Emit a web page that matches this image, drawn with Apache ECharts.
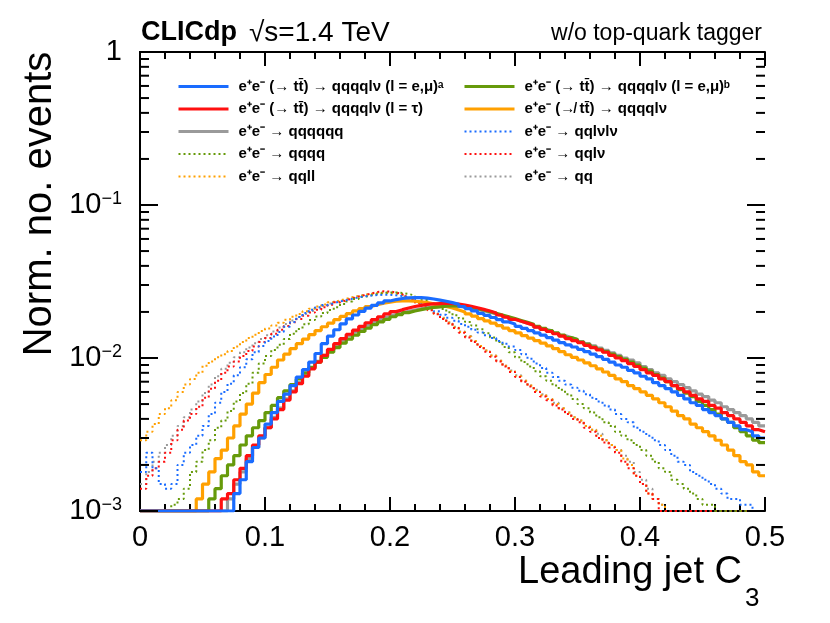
<!DOCTYPE html>
<html><head><meta charset="utf-8">
<script src="https://cdn.jsdelivr.net/npm/echarts/dist/echarts.min.js"></script>
<style>html,body{margin:0;padding:0;background:#fff}#c{width:830px;height:623px}</style>
</head><body><div id="c"></div>
<script>
// Histogram binning (bin low edge and width of the leading-jet C3 distribution)
const binLow = 0;
const binWidth = 0.005;
const xTicks = [0, 0.1, 0.2, 0.3, 0.4, 0.5];
const yMajorTicks = [0.001, 0.01, 0.1, 1];
const yMinorTicks = [0.002,0.003,0.004,0.005,0.006,0.007,0.008,0.009,
  0.02,0.03,0.04,0.05,0.06,0.07,0.08,0.09,
  0.2,0.3,0.4,0.5,0.6,0.7,0.8,0.9];

const seriesNames = [
  'e⁺e⁻ (→ tt̄) → qqqqlν (l = e,μ)ᵃ',
  'e⁺e⁻ (→ tt̄) → qqqqlν (l = τ)',
  'e⁺e⁻ → qqqqqq',
  'e⁺e⁻ → qqqq',
  'e⁺e⁻ → qqll',
  'e⁺e⁻ (→ tt̄) → qqqqlν (l = e,μ)ᵇ',
  'e⁺e⁻ (↛ tt̄) → qqqqlν',
  'e⁺e⁻ → qqlνlν',
  'e⁺e⁻ → qqlν',
  'e⁺e⁻ → qq'
];

// blue solid
const ttA = [0.001,0.001,0.001,0.001,0.001,0.001,0.001,0.001,0.001,0.001,
 0.001,0.001,0.001,0.001,0.001,0.0013,0.0016,0.0021,0.0026,0.0030,
 0.0037,0.0044,0.0052,0.0058,0.0066,0.0075,0.0084,0.0094,0.0107,0.0124,
 0.0139,0.0153,0.0167,0.0180,0.0191,0.0202,0.0212,0.0221,0.0229,0.0236,
 0.0241,0.0245,0.0247,0.0248,0.0248,0.0246,0.0243,0.0239,0.0235,0.0230,
 0.0224,0.0217,0.0210,0.0203,0.0196,0.0190,0.0184,0.0178,0.0172,0.0167,
 0.0161,0.0156,0.0151,0.0146,0.0141,0.0136,0.0131,0.0126,0.0122,0.0118,
 0.0114,0.0110,0.0106,0.0102,0.0098,0.0094,0.0090,0.0087,0.0083,0.0080,
 0.0076,0.0073,0.0069,0.0066,0.0063,0.0060,0.0057,0.0054,0.0051,0.0049,
 0.0046,0.0044,0.0042,0.0040,0.0038,0.0036,0.0034,0.0033,0.0031,0.0030];
// red solid
const ttTau = [0.001,0.001,0.001,0.001,0.001,0.001,0.001,0.001,0.001,0.001,
 0.001,0.001,0.001,0.0012,0.0013,0.0016,0.0019,0.0023,0.0027,0.0031,
 0.0035,0.0040,0.0046,0.0053,0.0060,0.0068,0.0076,0.0085,0.0094,0.0104,
 0.0114,0.0124,0.0134,0.0143,0.0152,0.0161,0.0170,0.0178,0.0186,0.0194,
 0.0201,0.0207,0.0212,0.0217,0.0221,0.0224,0.0226,0.0227,0.0228,0.0227,
 0.0225,0.0222,0.0218,0.0213,0.0208,0.0203,0.0197,0.0191,0.0185,0.0179,
 0.0174,0.0169,0.0164,0.0159,0.0154,0.0149,0.0144,0.0139,0.0134,0.0130,
 0.0126,0.0121,0.0117,0.0113,0.0109,0.0104,0.0100,0.0096,0.0092,0.0088,
 0.0084,0.0080,0.0077,0.0073,0.0070,0.0066,0.0063,0.0060,0.0057,0.0054,
 0.0052,0.0049,0.0047,0.0044,0.0042,0.0040,0.0038,0.0036,0.0034,0.0033];
// gray solid
const sixQ = [0.001,0.001,0.001,0.001,0.001,0.001,0.001,0.001,0.001,0.001,
 0.001,0.001,0.001,0.001,0.0012,0.0015,0.0018,0.0022,0.0026,0.0030,
 0.0035,0.0041,0.0047,0.0054,0.0061,0.0069,0.0077,0.0086,0.0095,0.0104,
 0.0113,0.0122,0.0131,0.0140,0.0148,0.0156,0.0164,0.0171,0.0178,0.0185,
 0.0191,0.0197,0.0202,0.0206,0.0210,0.0213,0.0215,0.0217,0.0218,0.0218,
 0.0217,0.0215,0.0212,0.0208,0.0204,0.0199,0.0194,0.0189,0.0184,0.0179,
 0.0174,0.0169,0.0164,0.0159,0.0154,0.0150,0.0145,0.0140,0.0136,0.0132,
 0.0128,0.0124,0.0120,0.0116,0.0112,0.0108,0.0104,0.0100,0.0097,0.0093,
 0.0088,0.0084,0.0080,0.0077,0.0073,0.0070,0.0067,0.0064,0.0061,0.0058,
 0.0056,0.0053,0.0051,0.0048,0.0046,0.0044,0.0042,0.0040,0.0038,0.0036];
// green solid
const ttB = [0.001,0.001,0.001,0.001,0.001,0.001,0.001,0.001,0.001,0.001,
 0.001,0.0012,0.0014,0.0017,0.0020,0.0023,0.0027,0.0031,0.0035,0.0039,
 0.0044,0.0049,0.0055,0.0061,0.0067,0.0073,0.0080,0.0087,0.0094,0.0101,
 0.0109,0.0117,0.0125,0.0133,0.0141,0.0149,0.0157,0.0165,0.0172,0.0179,
 0.0186,0.0192,0.0198,0.0203,0.0207,0.0211,0.0214,0.0216,0.0218,0.0219,
 0.0219,0.0217,0.0214,0.0210,0.0206,0.0201,0.0196,0.0191,0.0186,0.0181,
 0.0176,0.0171,0.0166,0.0161,0.0156,0.0151,0.0146,0.0141,0.0136,0.0132,
 0.0127,0.0123,0.0118,0.0114,0.0110,0.0106,0.0102,0.0098,0.0094,0.0090,
 0.0086,0.0082,0.0078,0.0074,0.0070,0.0066,0.0062,0.0059,0.0056,0.0052,
 0.0049,0.0046,0.0043,0.0040,0.0038,0.0035,0.0033,0.0031,0.0029,0.0028];
// orange solid
const nonTT = [0.001,0.001,0.001,0.001,0.001,0.001,0.001,0.001,0.001,0.0012,
 0.0015,0.0018,0.0022,0.0025,0.0030,0.0036,0.0043,0.0050,0.0059,0.0069,
 0.0078,0.0087,0.0097,0.0106,0.0115,0.0124,0.0133,0.0142,0.0151,0.0160,
 0.0169,0.0178,0.0187,0.0195,0.0203,0.0210,0.0217,0.0223,0.0228,0.0232,
 0.0235,0.0236,0.0236,0.0235,0.0233,0.0230,0.0226,0.0222,0.0217,0.0212,
 0.0206,0.0200,0.0194,0.0188,0.0181,0.0175,0.0169,0.0163,0.0157,0.0151,
 0.0146,0.0140,0.0135,0.0130,0.0125,0.0120,0.0115,0.0110,0.0105,0.0101,
 0.0097,0.0093,0.0089,0.0085,0.0081,0.0077,0.0073,0.0070,0.0066,0.0063,
 0.0060,0.0057,0.0054,0.0051,0.0048,0.0045,0.0042,0.0040,0.0037,0.0035,
 0.0033,0.0031,0.0029,0.0027,0.0025,0.0023,0.0021,0.0020,0.0018,0.0017];
// green dotted
const fourQ = [0.001,0.001,0.001,0.001,0.001,0.0011,0.0012,0.0014,0.0018,0.0021,
 0.0025,0.0029,0.0035,0.0039,0.0045,0.0052,0.0059,0.0068,0.0080,0.0092,
 0.0103,0.0113,0.0122,0.0133,0.0144,0.0155,0.0166,0.0177,0.0187,0.0197,
 0.0206,0.0215,0.0225,0.0234,0.0243,0.0251,0.0257,0.0262,0.0266,0.0268,
 0.0268,0.0266,0.0262,0.0256,0.0248,0.0239,0.0229,0.0219,0.0209,0.0199,
 0.0190,0.0181,0.0172,0.0163,0.0154,0.0145,0.0136,0.0127,0.0118,0.0109,
 0.0101,0.0094,0.0088,0.0082,0.0076,0.0071,0.0066,0.0062,0.0058,0.0054,
 0.0050,0.0047,0.0044,0.0041,0.0038,0.0036,0.0033,0.0031,0.0029,0.0027,
 0.0025,0.0023,0.0021,0.0019,0.0018,0.0016,0.0015,0.0014,0.0013,0.0012,
 0.0011,0.0011,0.001,0.001,0.001,0.001,0.001,0.001,0.001,0.001];
// orange dotted
const qqll = [0.0029,0.0033,0.0037,0.0043,0.0047,0.0053,0.0060,0.0067,0.0073,0.0080,
 0.0089,0.0095,0.0101,0.0106,0.0111,0.0119,0.0127,0.0135,0.0142,0.0150,
 0.0156,0.0163,0.0170,0.0178,0.0186,0.0194,0.0202,0.0210,0.0217,0.0224,
 0.0231,0.0238,0.0244,0.0250,0.0254,0.0258,0.0262,0.0265,0.0266,0.0266,
 0.0263,0.0258,0.0250,0.0240,0.0229,0.0218,0.0206,0.0194,0.0182,0.0170,
 0.0159,0.0148,0.0138,0.0129,0.0120,0.0112,0.0104,0.0096,0.0089,0.0082,
 0.0076,0.0071,0.0066,0.0061,0.0057,0.0054,0.0050,0.0047,0.0044,0.0041,
 0.0039,0.0036,0.0034,0.0031,0.0029,0.0027,0.0025,0.0022,0.0020,0.0017,
 0.0015,0.0013,0.0012,0.0011,0.001,0.001,0.001,0.001,0.001,0.001,
 0.001,0.001,0.001,0.001,0.001,0.001,0.001,0.001,0.001,0.001];
// blue dotted
const qqlvlv = [0.0018,0.0024,0.0019,0.0015,0.0014,0.0015,0.0020,0.0024,0.0027,0.0031,
 0.0036,0.0043,0.0051,0.0060,0.0068,0.0077,0.0087,0.0098,0.0109,0.0120,
 0.0129,0.0138,0.0148,0.0160,0.0172,0.0185,0.0197,0.0207,0.0215,0.0222,
 0.0228,0.0234,0.0239,0.0244,0.0249,0.0253,0.0256,0.0258,0.0259,0.0259,
 0.0257,0.0254,0.0249,0.0242,0.0233,0.0223,0.0212,0.0202,0.0192,0.0183,
 0.0175,0.0167,0.0160,0.0153,0.0147,0.0141,0.0135,0.0129,0.0124,0.0119,
 0.0113,0.0106,0.0099,0.0092,0.0086,0.0080,0.0075,0.0071,0.0067,0.0064,
 0.0061,0.0058,0.0055,0.0052,0.0049,0.0046,0.0043,0.0040,0.0038,0.0035,
 0.0033,0.0031,0.0029,0.0027,0.0025,0.0023,0.0021,0.0020,0.0018,0.0017,
 0.0016,0.0015,0.0014,0.0013,0.0012,0.0012,0.0011,0.0011,0.001,0.001];
// red dotted
const qqlv = [0.0014,0.0017,0.0019,0.0021,0.0024,0.0029,0.0034,0.0039,0.0043,0.0048,
 0.0055,0.0063,0.0071,0.0080,0.0088,0.0095,0.0103,0.0111,0.0119,0.0127,
 0.0135,0.0144,0.0153,0.0162,0.0171,0.0180,0.0189,0.0198,0.0207,0.0215,
 0.0223,0.0231,0.0238,0.0245,0.0252,0.0258,0.0264,0.0270,0.0273,0.0272,
 0.0268,0.0262,0.0253,0.0242,0.0230,0.0218,0.0205,0.0193,0.0180,0.0168,
 0.0157,0.0146,0.0136,0.0127,0.0118,0.0110,0.0102,0.0095,0.0088,0.0081,
 0.0075,0.0070,0.0065,0.0060,0.0056,0.0053,0.0049,0.0046,0.0043,0.0040,
 0.0038,0.0035,0.0033,0.0030,0.0028,0.0026,0.0024,0.0021,0.0019,0.0017,
 0.0015,0.0013,0.0012,0.001,0.001,0.001,0.001,0.001,0.001,0.001,
 0.001,0.001,0.001,0.001,0.001,0.001,0.001,0.001,0.001,0.001];
// gray dotted
const qq = [0.0015,0.0018,0.0021,0.0024,0.0027,0.0031,0.0036,0.0041,0.0046,0.0052,
 0.0059,0.0067,0.0076,0.0085,0.0093,0.0101,0.0109,0.0117,0.0125,0.0133,
 0.0141,0.0149,0.0158,0.0167,0.0176,0.0185,0.0194,0.0203,0.0211,0.0219,
 0.0227,0.0234,0.0241,0.0248,0.0254,0.0259,0.0263,0.0267,0.0269,0.0269,
 0.0266,0.0260,0.0252,0.0242,0.0231,0.0219,0.0207,0.0195,0.0183,0.0171,
 0.0160,0.0149,0.0139,0.0129,0.0120,0.0112,0.0104,0.0096,0.0089,0.0083,
 0.0077,0.0071,0.0066,0.0062,0.0058,0.0054,0.0051,0.0047,0.0044,0.0041,
 0.0039,0.0036,0.0034,0.0032,0.0029,0.0027,0.0025,0.0023,0.0021,0.0018,
 0.0016,0.0014,0.0012,0.0011,0.001,0.001,0.001,0.001,0.001,0.001,
 0.001,0.001,0.001,0.001,0.001,0.001,0.001,0.001,0.001,0.001];

const BLUE = '#1a6cff', RED = '#ff1010', GRAY = '#9a9a9a', GREEN = '#669a0a', ORANGE = '#ffa000';
const FONT = '"Liberation Sans", Arial, Helvetica, sans-serif';

function hist(vals) {
  const pts = vals.map((v, i) => [binLow + i * binWidth, v]);
  pts.push([binLow + vals.length * binWidth, vals[vals.length - 1]]);
  return pts;
}
function mkSeries(name, vals, color, dotted, z) {
  return {
    name: name, type: 'line', step: 'end', data: hist(vals),
    symbol: 'none', showSymbol: false, animation: false, z: z,
    lineStyle: dotted ? { color: color, width: 2, type: [2, 3] } : { color: color, width: 3.2 },
    itemStyle: { color: color }
  };
}
function tickSeries(values, len) {
  return {
    type: 'custom', silent: true, animation: false, z: 5, clip: false,
    data: values.map(v => [0, v]),
    renderItem: function (params, api) {
      const cs = params.coordSys;
      const y = api.coord([0, api.value(1)])[1];
      const st = { stroke: '#000', lineWidth: 2 };
      return { type: 'group', children: [
        { type: 'line', shape: { x1: cs.x, y1: y, x2: cs.x + len, y2: y }, style: st },
        { type: 'line', shape: { x1: cs.x + cs.width - len, y1: y, x2: cs.x + cs.width, y2: y }, style: st }
      ]};
    }
  };
}

const series = [
  mkSeries(seriesNames[9], qq, GRAY, true, 2),
  mkSeries(seriesNames[4], qqll, ORANGE, true, 2),
  mkSeries(seriesNames[8], qqlv, RED, true, 2),
  mkSeries(seriesNames[3], fourQ, GREEN, true, 2),
  mkSeries(seriesNames[7], qqlvlv, BLUE, true, 2),
  mkSeries(seriesNames[2], sixQ, GRAY, false, 3),
  mkSeries(seriesNames[6], nonTT, ORANGE, false, 3),
  mkSeries(seriesNames[5], ttB, GREEN, false, 3),
  mkSeries(seriesNames[1], ttTau, RED, false, 3),
  mkSeries(seriesNames[0], ttA, BLUE, false, 3),
  tickSeries(yMinorTicks, 9),
  tickSeries(yMajorTicks, 18)
];

function legendItems(names, specs) {
  return names.map((n, i) => ({ name: n, lineStyle: specs[i] }));
}
const solid = c => ({ color: c, width: 3, type: 'solid' });
const dot = c => ({ color: c, width: 2, type: [2, 3] });

const legendCommon = {
  orient: 'vertical', itemWidth: 50, itemHeight: 10, itemGap: 7.5, padding: 0,
  selectedMode: false,
  itemStyle: { opacity: 0 },
  textStyle: { fontFamily: FONT, fontWeight: 'bold', fontSize: 15, lineHeight: 15, color: '#000', padding: [0, 0, 0, 5] }
};

const axisLineStyle = { show: true, lineStyle: { color: '#000', width: 2 } };
const chart = echarts.init(document.getElementById('c'), null, { renderer: 'canvas' });
chart.setOption({
  backgroundColor: '#fff',
  animation: false,
  grid: { left: 140, right: 65, top: 52, bottom: 112, outerBoundsMode: 'none', containLabel: false },
  legend: [
    Object.assign({}, legendCommon, { left: 177, top: 79,
      data: legendItems([seriesNames[0], seriesNames[1], seriesNames[2], seriesNames[3], seriesNames[4]],
        [solid(BLUE), solid(RED), solid(GRAY), dot(GREEN), dot(ORANGE)]) }),
    Object.assign({}, legendCommon, { left: 463, top: 79,
      data: legendItems([seriesNames[5], seriesNames[6], seriesNames[7], seriesNames[8], seriesNames[9]],
        [solid(GREEN), solid(ORANGE), dot(BLUE), dot(RED), dot(GRAY)]) })
  ],
  xAxis: [
    { type: 'value', min: xTicks[0], max: xTicks[xTicks.length - 1], interval: 0.1, position: 'bottom',
      axisLine: axisLineStyle,
      axisTick: { show: true, inside: true, length: 14, lineStyle: { color: '#000', width: 2 } },
      minorTick: { show: true, splitNumber: 5, length: 7, lineStyle: { color: '#000', width: 2 } },
      splitLine: { show: false },
      axisLabel: { color: '#000', fontFamily: FONT, fontSize: 29, margin: 12,
        formatter: v => String(Math.round(v * 10) / 10) } },
    { type: 'value', min: xTicks[0], max: xTicks[xTicks.length - 1], interval: 0.1, position: 'top',
      axisLine: axisLineStyle,
      axisTick: { show: true, inside: true, length: 14, lineStyle: { color: '#000', width: 2 } },
      minorTick: { show: true, splitNumber: 5, length: 7, lineStyle: { color: '#000', width: 2 } },
      splitLine: { show: false }, axisLabel: { show: false } }
  ],
  yAxis: [
    { type: 'log', logBase: 10, min: yMajorTicks[0], max: yMajorTicks[yMajorTicks.length - 1], position: 'left',
      axisLine: axisLineStyle,
      axisTick: { show: false },
      splitLine: { show: false },
      axisLabel: { color: '#000', fontFamily: FONT, fontSize: 29, lineHeight: 30, margin: 18,
        formatter: v => { const e = Math.round(Math.log10(v)); return e === 0 ? '1' : '10{sup|−' + (-e) + '}'; },
        rich: { sup: { fontFamily: FONT, fontSize: 18, lineHeight: 30, verticalAlign: 'top', color: '#000' } } } },
    { type: 'log', logBase: 10, min: yMajorTicks[0], max: yMajorTicks[yMajorTicks.length - 1], position: 'right',
      axisLine: axisLineStyle,
      axisTick: { show: false },
      splitLine: { show: false }, axisLabel: { show: false } }
  ],
  graphic: [
    { type: 'text', x: 141, y: 33, style: { text: 'CLICdp', font: 'bold 27px ' + FONT, fill: '#000', textAlign: 'left', textVerticalAlign: 'middle' } },
    { type: 'text', x: 249, y: 33, style: { text: '√s=1.4 TeV', font: '28px ' + FONT, fill: '#000', textAlign: 'left', textVerticalAlign: 'middle' } },
    { type: 'text', x: 762, y: 34, style: { text: 'w/o top-quark tagger', font: '23px ' + FONT, fill: '#000', textAlign: 'right', textVerticalAlign: 'middle' } },
    { type: 'text', x: 40, y: 204, rotation: Math.PI / 2, style: { text: 'Norm. no. events', font: '40px ' + FONT, fill: '#000', textAlign: 'center', textVerticalAlign: 'middle' } },
    { type: 'text', x: 742, y: 573, style: { text: 'Leading jet C', font: '38px ' + FONT, fill: '#000', textAlign: 'right', textVerticalAlign: 'middle' } },
    { type: 'text', x: 745, y: 599, style: { text: '3', font: '26px ' + FONT, fill: '#000', textAlign: 'left', textVerticalAlign: 'middle' } }
  ],
  series: series
});
</script>
</body></html>
